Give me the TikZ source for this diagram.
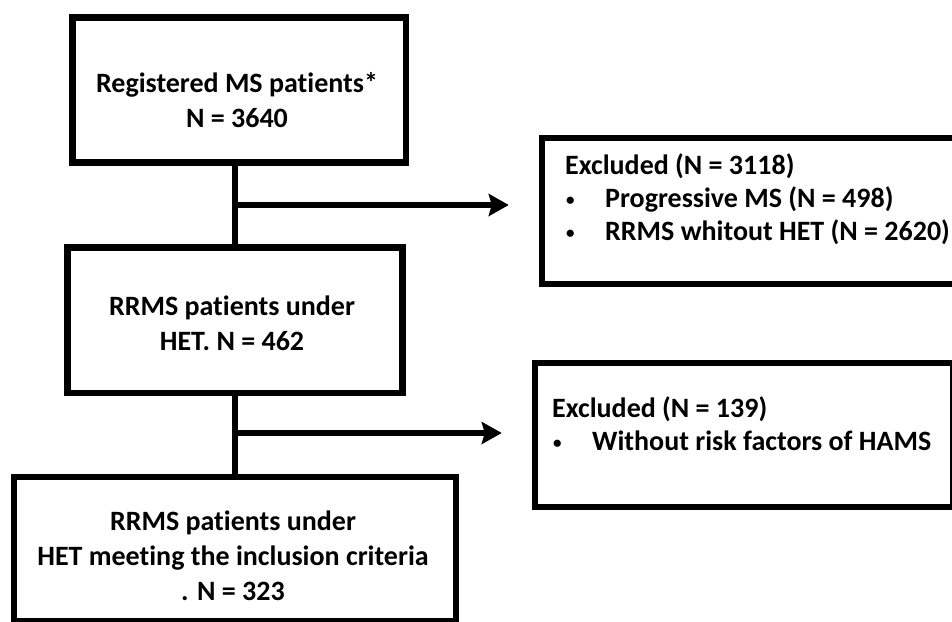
\documentclass[tikz,border=0pt]{standalone}
\usepackage{fontspec}
\setmainfont{Carlito}[Ligatures=NoCommon]
\usetikzlibrary{arrows.meta}

\tikzset{
  flowbox/.style = {draw, line width=6.5pt, inner sep=0pt},
  boxtext/.style = {align=center, inner sep=0pt, font=\bfseries\fontsize{28}{35}\selectfont},
  listtext/.style = {align=left, inner sep=0pt, font=\bfseries\fontsize{28}{33}\selectfont},
  flowline/.style = {line width=6.5pt},
  flowarrow/.style = {line width=6.5pt, -{Stealth[length=20pt, width=22pt, inset=3pt]}, shorten >=30pt},
}
\newcommand{\bul}{\makebox[40pt][l]{\hspace{1pt}\raisebox{2pt}{\fontsize{17}{17}\selectfont\textbullet}}}

\begin{document}
\begin{tikzpicture}[x=1pt, y=-1pt]
    \useasboundingbox (0,0) rectangle (952,621);
    \clip (0,0) rectangle (952,621);

    \node[flowbox, minimum width=333.5pt, minimum height=145pt] (reg) at (239, 90) {};
    \node[boxtext, anchor=base] (regtext) at (237, 127) {Registered MS patients*\\N = 3640};

    \node[flowbox, minimum width=335pt, minimum height=145.5pt] (het) at (235, 320) {};
    \node[boxtext, anchor=base] (hettext) at (232, 350) {RRMS patients under\\HET. N = 462};

    \node[flowbox, minimum width=442pt, minimum height=144.5pt] (incl) at (235, 549) {};
    \node[boxtext, anchor=base] (incltext) at (233, 600) {RRMS patients under\\HET meeting the inclusion criteria\\. N = 323};

    \node[flowbox, minimum width=418pt, minimum height=146pt] (excl1) at (751, 211) {};
    \node[listtext, anchor=base west] (excl1text) at (565, 240) {Excluded (N = 3118)\\\bul Progressive MS (N = 498)\\\bul RRMS whitout HET (N = 2620)};

    \node[flowbox, minimum width=418pt, minimum height=144pt] (excl2) at (744, 435) {};
    \node[listtext, anchor=base west] (excl2text) at (552, 450) {Excluded (N = 139)\\\bul Without risk factors of HAMS};

    \coordinate (split1) at (235, 205);
    \coordinate (split2) at (235, 433);

    \draw[flowline] (reg.south -| het.north) -- (het.north);
    \draw[flowline] (het.south) -- (incl.north);
    \draw[flowarrow] (split1) -- (split1 -| excl1.west);
    \draw[flowarrow] (split2) -- (split2 -| excl2.west);
\end{tikzpicture}
\end{document}
